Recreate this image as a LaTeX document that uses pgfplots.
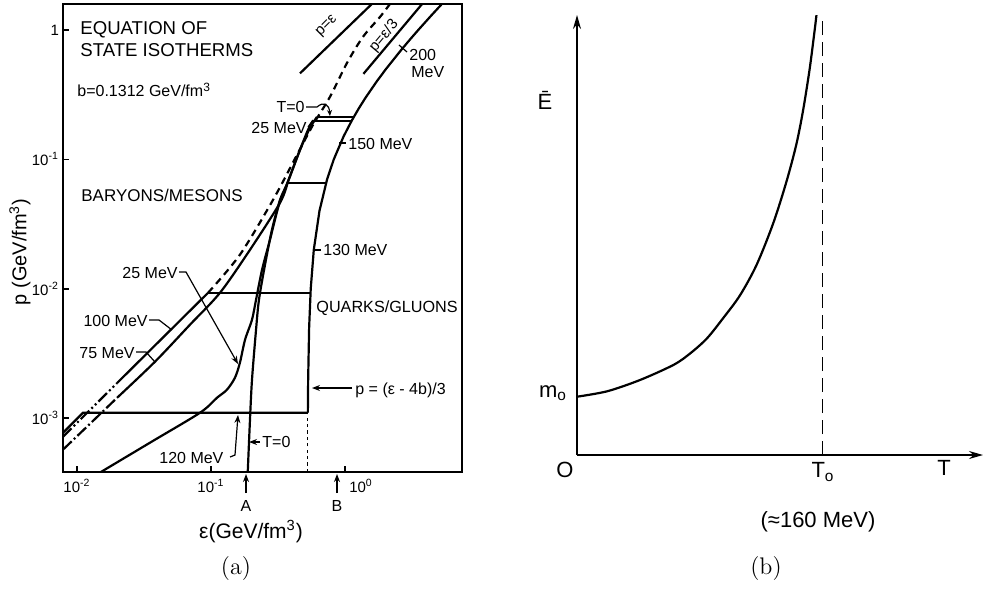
\documentclass[border=0pt]{standalone}
\usepackage{pgfplots}
\pgfplotsset{compat=1.18}
\usepackage{fontspec}
\usetikzlibrary{arrows.meta}
\newfontfamily\lab{Liberation Sans}
\newcommand\fs[1]{\fontsize{#1}{#1}\selectfont}

\begin{document}
\begin{tikzpicture}
\path[use as bounding box] (0,0) rectangle (492pt,-294.5pt);

% ---------------- (a) equation of state isotherms ----------------
\begin{axis}[
  at={(31.5pt,-236pt)}, anchor=south west,
  scale only axis, width=199.5pt, height=234pt,
  xmode=log, ymode=log,
  xmin=0.00787, xmax=7.46, ymin=3.84e-4, ymax=1.585,
  axis line style={line width=1pt},
  tick align=inside, tick pos=left,
  xtick={0.01,0.1,1}, ytick={0.001,0.01,0.1,1},
  xticklabels={10\textsuperscript{-2},10\textsuperscript{-1},\hspace*{16pt}10\textsuperscript{0}},
  yticklabels={10\textsuperscript{-3},10\textsuperscript{-2},10\textsuperscript{-1},1},
  xminorticks=false, yminorticks=false,
  major tick length=3pt,
  tick style={line width=0.8pt, black},
  tick label style={font=\lab\fs{7.5}},
  yticklabel style={xshift=1.5pt},
  cycle list={{black, solid, mark=none}},
  every axis plot/.append style={line width=1.1pt, black, mark=none},
]
% quark-gluon phase, p = (eps - 4b)/3
\addplot coordinates {(0.5281,0.001102) (0.5308,0.002) (0.5398,0.005) (0.5548,0.01)
  (0.5848,0.02) (0.6448,0.04) (0.7348,0.07) (0.8248,0.1) (0.9748,0.15) (1.1248,0.2)
  (1.2748,0.25) (1.4248,0.3) (1.7248,0.4) (2.0248,0.5) (2.6248,0.7) (3.0748,0.85)
  (3.5248,1.0) (4.4248,1.3) (5.3248,1.6)};
\addplot[dash pattern=on 1.6pt off 1.6pt, line width=0.9pt] coordinates {(0.5248,3.84e-4) (0.5248,0.001102)};
% mixed-phase plateaus
\addplot coordinates {(0.00787,7.727e-4) (0.01109,1.102e-3) (0.5281,1.102e-3)};   % 120 MeV
\addplot coordinates {(0.0951,9.31e-3) (0.5527,9.31e-3)};                          % 100 MeV
\addplot coordinates {(0.3724,0.06592) (0.7226,0.06592)};                          % 75 MeV
\addplot coordinates {(0.5768,0.1982) (1.1194,0.1982)};                            % 25 MeV
\addplot coordinates {(0.6180,0.2128) (1.1632,0.2128)};                            % T = 0
% hadron phase, 100 MeV
\addplot[dash pattern=on 6pt off 1.5pt on 1pt off 1.5pt on 1pt off 1.5pt] coordinates {(0.00787,7.19e-4) (0.01995,1.871e-3)};
\addplot coordinates {(0.01995,1.871e-3) (0.0951,9.31e-3)};
% hadron phase, 75 MeV
\addplot[dash pattern=on 6pt off 1.5pt on 1pt off 1.5pt] coordinates {(0.00787,5.715e-4) (0.01995,1.439e-3)};
\addplot[smooth] coordinates {(0.01995,1.439e-3) (0.03819,2.729e-3) (0.06966,5.272e-3)
  (0.1167,9.31e-3) (0.1954,0.0200) (0.3273,0.04613) (0.3724,0.06592)};
% hadron phase, 25 MeV
\addplot[smooth] coordinates {(0.01023,3.02e-4) (0.03508,6.47e-4) (0.08279,1.102e-3)
  (0.1109,1.439e-3) (0.1315,1.660e-3) (0.1510,2.056e-3) (0.1644,2.685e-3) (0.1795,4.036e-3)
  (0.2023,5.768e-3) (0.2168,8.22e-3) (0.2404,0.01403) (0.2754,0.02388) (0.3214,0.04457)
  (0.3724,0.06592) (0.4613,0.1183) (0.5297,0.1690) (0.5768,0.1982)};
% T = 0
\addplot[smooth] coordinates {(0.1849,2.512e-4) (0.1954,9.73e-4) (0.2023,1.982e-3)
  (0.2168,4.819e-3) (0.2280,8.22e-3) (0.2529,0.01531) (0.2851,0.02858) (0.3273,0.04864)
  (0.3724,0.06592) (0.4613,0.1183) (0.5483,0.1750) (0.6180,0.2128)};
% hadron gas continued past the transition
\addplot[smooth, dash pattern=on 3.5pt off 2.5pt] coordinates {(0.0951,9.31e-3) (0.1644,0.01832)
  (0.2904,0.04864) (0.4385,0.1084) (0.5768,0.1845) (0.7727,0.3041) (1.035,0.5559)
  (1.361,0.8831) (1.824,1.259) (2.239,1.660)};
% limiting lines
\addplot coordinates {(0.4613,0.4613) (1.8,1.8)};
\addplot coordinates {(1.372,0.4573) (3.76,1.585)};
\end{axis}

% ---------------- (b) mean energy versus temperature ----------------
\begin{axis}[
  at={(288.5pt,-227.5pt)}, anchor=south west,
  scale only axis, width=203pt, height=220pt,
  axis lines=left,
  xmin=0, xmax=265, ymin=0, ymax=1,
  xtick=\empty, ytick=\empty,
  axis line style={line width=0.8pt, -{Stealth[length=7pt,width=4pt]}},
  cycle list={{black, solid, mark=none}},
]
\addplot[line width=1.1pt, smooth] coordinates {(0,0.1325) (19.9,0.145) (41.5,0.171)
  (63.1,0.205) (73.9,0.231) (84.8,0.265) (95.6,0.312) (106.4,0.363) (117.2,0.432)
  (128.0,0.526) (136.6,0.620) (143.1,0.705) (147.5,0.782) (151.8,0.876) (155.0,0.962) (156.3,1.0)};
\addplot[line width=0.6pt, dash pattern=on 7pt off 3.5pt] coordinates {(160,0) (160,1)};
\end{axis}

% ---------------- annotations ----------------
\begin{scope}[x=0.5pt, y=-0.5pt, every node/.style={inner sep=0pt}]
  \begin{scope}[font=\lab\fs{8}]
  \node[anchor=west, font=\lab\fs{9.3}] at (80,30) {EQUATION OF};
  \node[anchor=west, font=\lab\fs{9.3}] at (80,50) {STATE ISOTHERMS};
  \node[anchor=west] at (77,90) {b=0.1312 GeV/fm\textsuperscript{3}};
  \node[anchor=west, font=\lab\fs{8.5}] at (81,195) {BARYONS/MESONS};
  \node[anchor=west, font=\lab\fs{8.1}] at (316,308) {QUARKS/GLUONS};
  \node[anchor=west] at (355,390) {p = (ε - 4b)/3};
  \draw[line width=0.6pt, -{Stealth[length=4pt,width=3pt]}] (352,388) -- (312,388);
  \node[anchor=west] at (262,442) {T=0};
  \draw[line width=0.6pt, -{Stealth[length=4pt,width=3pt]}] (260,442) -- (249,442);
  \node[anchor=west] at (159,458) {120 MeV};
  \draw[line width=0.6pt, -{Stealth[length=4pt,width=3pt]}] (230,457) -- (235,455) -- (238,415);
  \node[anchor=east] at (148,321) {100 MeV};
  \draw[line width=0.6pt] (149,320) -- (159,320) -- (172,330);
  \node[anchor=east] at (135,353) {75 MeV};
  \draw[line width=0.6pt] (136,352) -- (146,352) -- (155,362);
  \node[anchor=east] at (178,273) {25 MeV};
  \draw[line width=0.6pt, -{Stealth[length=4pt,width=3pt]}] (179,272) -- (186,272) -- (238,364);
  \node[anchor=east] at (307,128) {25 MeV};
  \draw[line width=0.6pt] (308,127) -- (313,120);
  \node[anchor=east] at (305,107) {T=0};
  \draw[line width=0.6pt, -{Stealth[length=3pt,width=2.5pt]}] (306,107) -- (317,107) .. controls (324,101) and (329,104) .. (330,116);
  \draw[line width=0.6pt] (339,143) -- (346,143);
  \node[anchor=west] at (348,144) {150 MeV};
  \draw[line width=0.6pt] (314,250) -- (321,250);
  \node[anchor=west] at (323,250) {130 MeV};
  \draw[line width=0.6pt] (399,45) -- (407,52);
  \node[anchor=west] at (409,55) {200};
  \node[anchor=west] at (411,72) {MeV};
  \node[rotate=45, font=\lab\fs{7.5}] at (327,26) {p=ε};
  \node[rotate=50, font=\lab\fs{7.5}] at (384,36) {p=ε/3};
  \draw[line width=0.7pt, -{Stealth[length=4pt,width=3pt]}] (246,493) -- (246,474);
  \node at (246,506) {A};
  \draw[line width=0.7pt, -{Stealth[length=4pt,width=3pt]}] (337,493) -- (337,474);
  \node at (337,506) {B};
  \end{scope}
  \node[rotate=90, font=\lab\fs{10}] at (20,252) {p (GeV/fm\textsuperscript{3})};
  \node[font=\lab\fs{10.5}] at (251,532) {ε(GeV/fm\textsuperscript{3})};
  \node[font=\fs{12}] at (236,569) {(a)};
  % panel (b)
  \begin{scope}[font=\lab\fs{11}]
  \node at (545,100) {Ē};
  \node at (553,393) {m\textsubscript{o}};
  \node at (565,470) {O};
  \node at (823,472) {T\textsubscript{o}};
  \node at (944,468) {T};
  \node[font=\lab\fs{11}] at (818,522) {(≈160 MeV)};
  \end{scope}
  \node[font=\fs{12}] at (766,569) {(b)};
\end{scope}
\end{tikzpicture}
\end{document}
